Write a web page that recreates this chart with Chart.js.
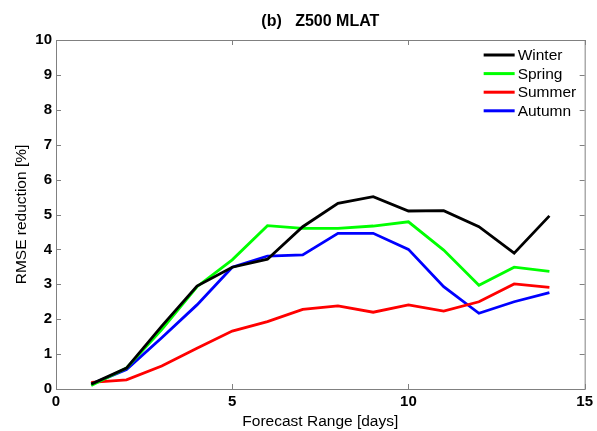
<!DOCTYPE html>
<html>
<head>
<meta charset="utf-8">
<script src="https://cdn.jsdelivr.net/npm/chart.js@4"></script>
<style>
  html, body { margin: 0; padding: 0; background: #fff; }
  #wrap { width: 597px; height: 431px; }
</style>
</head>
<body>
<div id="wrap"><canvas id="rmseChart" width="597" height="431"></canvas></div>
<script>
// Z500 MLAT - RMSE reduction per season
const days = [1, 2, 3, 4, 5, 6, 7, 8, 9, 10, 11, 12, 13, 14];
const winter = [0.14, 0.60, 1.80, 2.95, 3.49, 3.72, 4.65, 5.32, 5.51, 5.10, 5.11, 4.65, 3.89, 4.96];
const spring = [0.10, 0.60, 1.70, 2.93, 3.70, 4.68, 4.60, 4.60, 4.67, 4.79, 3.98, 2.97, 3.49, 3.37];
const summer = [0.19, 0.26, 0.66, 1.17, 1.66, 1.93, 2.28, 2.38, 2.20, 2.41, 2.23, 2.50, 3.01, 2.91];
const autumn = [0.14, 0.56, 1.47, 2.41, 3.49, 3.81, 3.84, 4.46, 4.46, 4.00, 2.93, 2.17, 2.50, 2.76];
const seasonNames = ['Winter', 'Spring', 'Summer', 'Autumn'];
const xTicks = [0, 5, 10, 15];
const yTicks = [0, 1, 2, 3, 4, 5, 6, 7, 8, 9, 10];
const titleText = '(b)   Z500 MLAT';

const colors = {
  winter: '#000000',
  spring: '#00ff00',
  summer: '#ff0000',
  autumn: '#0000ff',
  axis: '#808080',
  text: '#000000'
};

const FONT = '"Liberation Sans", Arial, sans-serif';

const toPoints = (vals) => vals.map((v, i) => ({ x: days[i], y: v }));

// box around the plot with inward ticks on every side
const boxPlugin = {
  id: 'boxTicks',
  afterDraw(chart) {
    const { ctx, chartArea: a, scales } = chart;
    ctx.save();
    ctx.strokeStyle = colors.axis;
    ctx.lineWidth = 1;
    ctx.strokeRect(a.left + 0.5, a.top + 0.5, a.right - a.left, a.bottom - a.top);
    const len = 5;
    ctx.beginPath();
    xTicks.forEach(t => {
      const px = Math.round(scales.x.getPixelForValue(t)) + 0.5;
      ctx.moveTo(px, a.bottom); ctx.lineTo(px, a.bottom - len);
      ctx.moveTo(px, a.top); ctx.lineTo(px, a.top + len);
    });
    yTicks.forEach(t => {
      const py = Math.round(scales.y.getPixelForValue(t)) + 0.5;
      ctx.moveTo(a.left, py); ctx.lineTo(a.left + len, py);
      ctx.moveTo(a.right, py); ctx.lineTo(a.right - len, py);
    });
    ctx.stroke();
    ctx.restore();
  }
};

// title centred over the plot area, legend in its upper right corner
const legendPlugin = {
  id: 'cornerLegend',
  afterDraw(chart) {
    const { ctx, chartArea: a } = chart;
    ctx.save();
    ctx.fillStyle = colors.text;
    ctx.textBaseline = 'middle';
    ctx.textAlign = 'center';
    ctx.font = 'bold 16px ' + FONT;
    ctx.fillText(titleText, (a.left + a.right) / 2, a.top - 18);

    ctx.textAlign = 'left';
    ctx.font = '15.5px ' + FONT;
    chart.data.datasets.forEach((ds, i) => {
      const y = a.top + 15 + i * 18.6;
      const x0 = a.right - 101;
      ctx.strokeStyle = ds.borderColor;
      ctx.lineWidth = 3;
      ctx.beginPath();
      ctx.moveTo(x0, y); ctx.lineTo(x0 + 31, y);
      ctx.stroke();
      ctx.fillText(ds.label, x0 + 34, y + 1);
    });
    ctx.restore();
  }
};

const makeSeries = (label, vals, color) => ({
  label: label,
  data: toPoints(vals),
  borderColor: color,
  backgroundColor: color,
  borderWidth: 2.8,
  pointRadius: 0,
  tension: 0,
  fill: false
});

const tickFont = { family: FONT, size: 15, weight: 'bold', lineHeight: 1.2 };
const labelFont = { family: FONT, size: 15.5, weight: 'normal', lineHeight: 1.2 };

new Chart(document.getElementById('rmseChart').getContext('2d'), {
  type: 'line',
  data: {
    datasets: [
      makeSeries(seasonNames[0], winter, colors.winter),
      makeSeries(seasonNames[1], spring, colors.spring),
      makeSeries(seasonNames[2], summer, colors.summer),
      makeSeries(seasonNames[3], autumn, colors.autumn)
    ]
  },
  options: {
    responsive: false,
    animation: false,
    layout: { padding: { left: 0, right: 10, top: 40, bottom: 0 } },
    plugins: {
      legend: { display: false },
      tooltip: { enabled: false },
      title: { display: false }
    },
    scales: {
      x: {
        type: 'linear',
        min: 0,
        max: 15,
        afterBuildTicks: (s) => { s.ticks = xTicks.map(v => ({ value: v })); },
        afterFit: (s) => { s.height = 42; },
        grid: { drawOnChartArea: false, drawTicks: false },
        border: { display: false },
        ticks: { color: colors.text, font: tickFont, padding: 4, maxRotation: 0 },
        title: { display: true, text: 'Forecast Range [days]', color: colors.text, font: labelFont, padding: { top: 0, bottom: 0 } }
      },
      y: {
        min: 0,
        max: 10,
        afterBuildTicks: (s) => { s.ticks = yTicks.map(v => ({ value: v })); },
        afterFit: (s) => { s.width = 56; },
        grid: { drawOnChartArea: false, drawTicks: false },
        border: { display: false },
        ticks: { color: colors.text, font: tickFont, padding: 4 },
        title: { display: true, text: 'RMSE reduction [%]', color: colors.text, font: labelFont, padding: { top: 12, bottom: 0 } }
      }
    }
  },
  plugins: [boxPlugin, legendPlugin]
});
</script>
</body>
</html>
